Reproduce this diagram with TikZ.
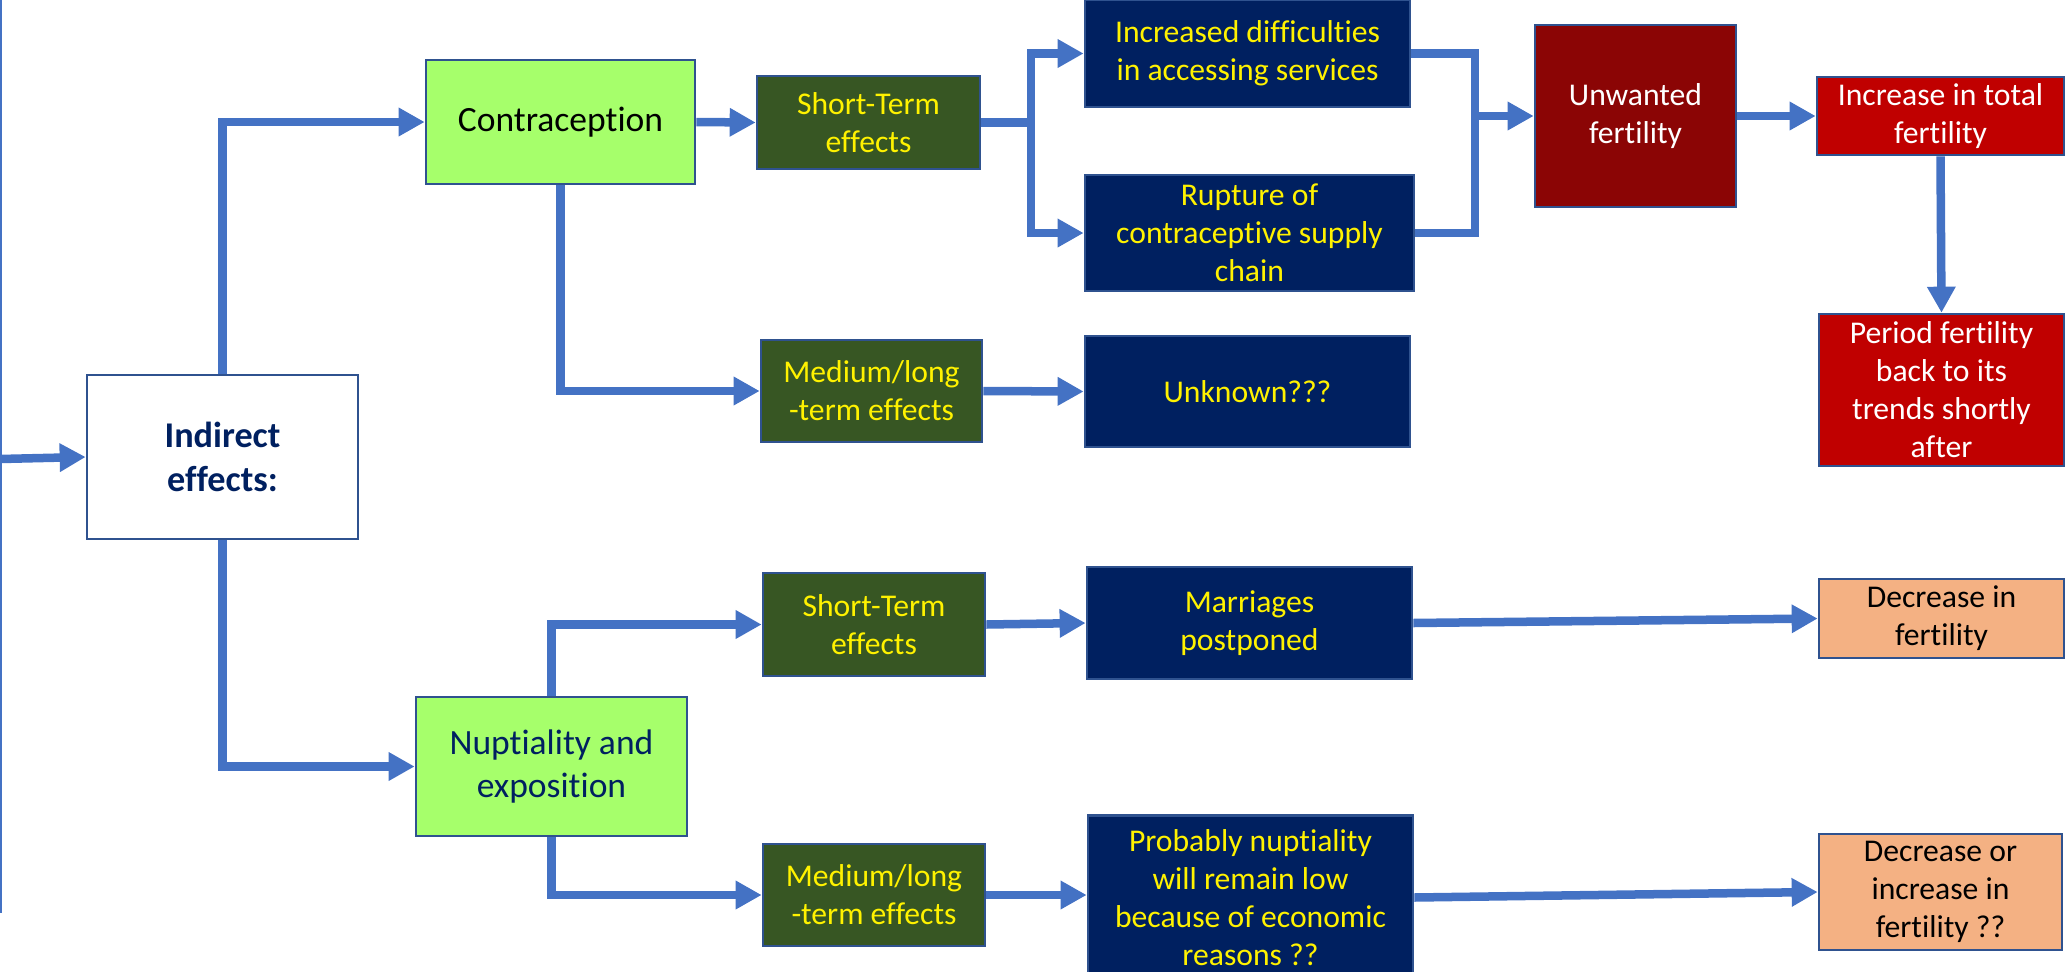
\documentclass[tikz,border=0pt]{standalone}
\usepackage{fontspec}
\setmainfont{Carlito}[Ligatures=NoCommon]
\usetikzlibrary{arrows.meta}
\definecolor{arrowblue}{HTML}{4472C4}
\definecolor{edgeblue}{HTML}{2F528F}
\definecolor{lgreen}{HTML}{A6FF6B}
\definecolor{olivebox}{HTML}{375623}
\definecolor{navybox}{HTML}{002060}
\definecolor{dredbox}{HTML}{8B0505}
\definecolor{redbox}{HTML}{C00000}
\definecolor{salmonbox}{HTML}{F4B183}
\begin{document}
\begin{tikzpicture}[x=0.01cm,y=-0.01cm,
  box/.style={draw=edgeblue, line width=0.025cm, rectangle, align=center, inner sep=0pt, font=\fontsize{9}{10.8}\selectfont},
  bigbox/.style={box, font=\fontsize{10.1}{12.2}\selectfont},
  olive/.style={box, fill=olivebox, text=yellow},
  navy/.style={box, fill=navybox, text=yellow},
  conn/.style={draw=arrowblue, line width=0.085cm},
  arr/.style={conn, -{Triangle[width=0.27cm,length=0.26cm]}},
]
\useasboundingbox (0,0) rectangle (2065,972);
\clip (0,0) rectangle (2065,972);

% nodes
\node[bigbox, fill=white, text=navybox, font=\fontsize{10.3}{12.4}\selectfont\bfseries, minimum width=2.71cm, minimum height=1.64cm] (ind) at (222.5,457) {Indirect\\effects:};
\node[bigbox, fill=lgreen, text=black, minimum width=2.69cm, minimum height=1.24cm] (con) at (560.5,122) {Contraception};
\node[olive, minimum width=2.23cm, minimum height=0.93cm] (st1) at (868.5,122.5) {Short-Term\\effects};
\node[olive, minimum width=2.21cm, minimum height=1.02cm] (ml1) at (871.5,391) {Medium/long\\-term effects};
\node[navy, minimum width=3.25cm, minimum height=1.07cm] (inc) at (1247.5,53.5) {Increased difficulties\\in accessing services};
\node[navy, minimum width=3.29cm, minimum height=1.16cm] (rup) at (1249.5,233) {Rupture of\\contraceptive supply\\chain};
\node[navy, minimum width=3.25cm, minimum height=1.11cm] (unk) at (1247.5,391.5) {Unknown???};
\node[box, fill=dredbox, text=white, minimum width=2.01cm, minimum height=1.82cm] (unw) at (1635.5,116) {Unwanted\\fertility};
\node[box, fill=redbox, text=white, minimum width=2.47cm, minimum height=0.78cm] (tot) at (1940.5,116) {Increase in total\\fertility};
\node[box, fill=redbox, text=white, minimum width=2.45cm, minimum height=1.52cm] (per) at (1941.5,390) {Period fertility\\back to its\\trends shortly\\after};
\node[bigbox, fill=lgreen, text=navybox, minimum width=2.71cm, minimum height=1.39cm] (nup) at (551.5,766.5) {Nuptiality and\\exposition};
\node[olive, minimum width=2.22cm, minimum height=1.03cm] (st2) at (874,624.5) {Short-Term\\effects};
\node[olive, minimum width=2.22cm, minimum height=1.02cm] (ml2) at (874,895) {Medium/long\\-term effects};
\node[navy, minimum width=3.25cm, minimum height=1.12cm] (mar) at (1249.5,623) {Marriages\\postponed};
\node[navy, minimum width=3.25cm, minimum height=1.64cm] (pro) at (1250.5,897.5) {Probably nuptiality\\will remain low\\because of economic\\reasons ??};
\node[box, fill=salmonbox, text=black, minimum width=2.45cm, minimum height=0.79cm] (dec) at (1941.5,618.5) {Decrease in\\fertility};
\node[box, fill=salmonbox, text=black, minimum width=2.43cm, minimum height=1.16cm] (doi) at (1940.5,892) {Decrease or\\increase in\\fertility ??};

% coordinates
\coordinate (lt) at (1,0);
\coordinate (lb) at (1,913);
\coordinate (lin) at (0,459);
\coordinate (j1) at (1031,122.5);
\coordinate (j2) at (1475,116);

% connectors
\draw[draw=arrowblue, line width=0.02cm] (lt) -- (lb);
\draw[arr] (lin) -- (ind.west);
\draw[arr] (ind.north) |- (con.west);
\draw[arr] (con.east) -- (st1.west);
\draw[arr] (con.south) |- (ml1.west);
\draw[arr] (ml1.east) -- (unk.west);
\draw[conn] (st1.east) -- (j1);
\draw[arr] (j1) |- (inc.west);
\draw[arr] (j1) |- (rup.west);
\draw[conn] (inc.east) -| (j2);
\draw[conn] (rup.east) -| (j2);
\draw[arr] (j2) -- (unw.west);
\draw[arr] (unw.east) -- (tot.west);
\draw[arr] (tot.south) -- (per.north);
\draw[arr] (ind.south) |- (nup.west);
\draw[arr] (nup.north) |- (st2.west);
\draw[arr] (nup.south) |- (ml2.west);
\draw[arr] (st2.east) -- (mar.west);
\draw[arr] (ml2.east) -- (ml2.east -| pro.west);
\draw[arr] (mar.east) -- (dec.west);
\draw[arr] (pro.east) -- (doi.west);
\end{tikzpicture}
\end{document}
